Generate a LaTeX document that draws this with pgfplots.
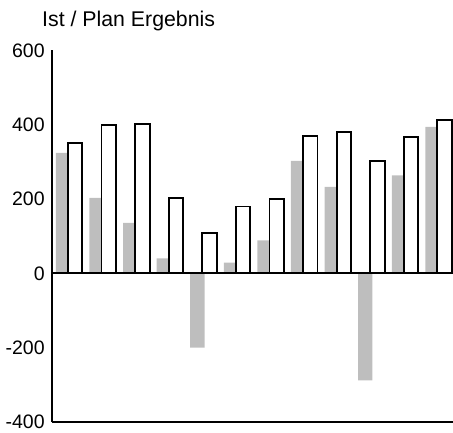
\documentclass[border=0pt]{standalone}
\usepackage{fontspec}
\setmainfont{Liberation Sans}
\usepackage{pgfplots}
\pgfplotsset{compat=1.18}

\definecolor{istgray}{RGB}{190,190,190}

\begin{document}
\begin{tikzpicture}
\begin{axis}[
    scale only axis,
    width=401pt, height=371.6pt,
    xmin=0.473, xmax=12.41,
    ymin=-400, ymax=600,
    ytick={-400,-200,0,200,400,600},
    xtick=\empty,
    axis lines=left,
    axis line style={-, line width=1.9pt},
    ytick style={draw=none},
    yticklabel style={inner sep=0pt, xshift=-5pt},
    tick label style={font=\fontsize{19.5}{22}\selectfont},
    /pgf/number format/assume math mode=true,
    title={Ist / Plan Ergebnis},
    title style={at={(0,1)}, anchor=base west, inner sep=0pt,
        xshift=-10pt, yshift=18pt, font=\fontsize{21.3}{24}\selectfont},
]
\addplot[ybar, bar width=0.426, bar shift=-0.2, fill=istgray, draw=none]
    coordinates {(1,324)(2,203)(3,136)(4,40)(5,-200)(6,29)(7,89)(8,303)(9,233)(10,-288)(11,264)(12,394)};
\addplot[ybar, bar width=0.43, bar shift=0.162, fill=white, draw=black, line width=1.9pt]
    coordinates {(1,351)(2,399)(3,403)(4,203)(5,109)(6,180)(7,199)(8,370)(9,381)(10,303)(11,367)(12,412)};
\draw[black, line width=1.9pt] (axis cs:0.473,0) -- (axis cs:12.41,0);
\end{axis}
\pgfresetboundingbox
\path (current axis.south west) ++(-52pt,-10pt) rectangle ++(453pt,432pt);
\end{tikzpicture}
\end{document}
